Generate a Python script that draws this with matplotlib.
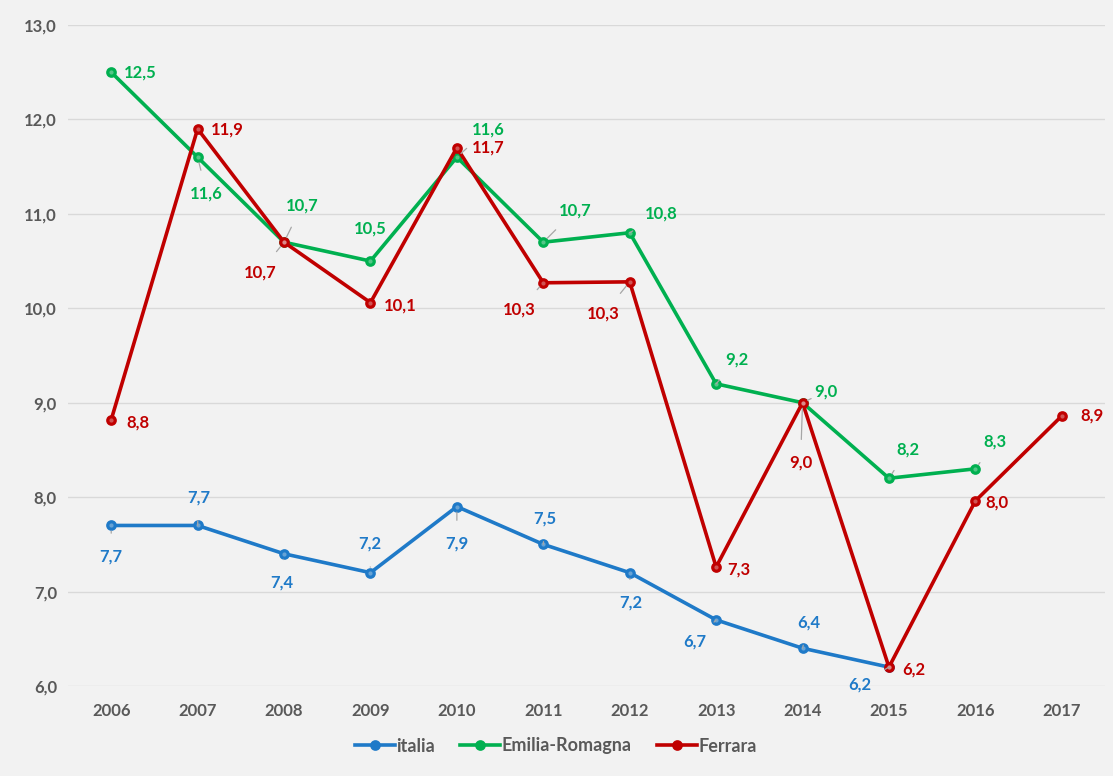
import matplotlib
matplotlib.use("Agg")
import matplotlib.pyplot as plt

years = ["2006", "2007", "2008", "2009", "2010", "2011", "2012", "2013", "2014", "2015", "2016", "2017"]
italia = [7.7, 7.7, 7.4, 7.2, 7.9, 7.5, 7.2, 6.7, 6.4, 6.2]
emilia = [12.5, 11.6, 10.7, 10.5, 11.6, 10.7, 10.8, 9.2, 9.0, 8.2, 8.3]
ferrara = [8.82, 11.9, 10.7, 10.06, 11.7, 10.27, 10.28, 7.26, 9.0, 6.2, 7.96, 8.86]
series_names = ["italia", "Emilia-Romagna", "Ferrara"]

# label offsets (pixels) and whether a leader line is drawn
off_it = [(0, -31, 1), (1, 28, 1), (-2, -29, 1), (-1, 29, 1), (0, -37, 1), (2, 26, 1),
          (1, -30, 1), (-21, -22, 1), (6, 26, 1), (-29, -17, 1)]
off_er = [(29, 0, 0), (9, -36, 1), (18, 37, 1), (0, 33, 0), (31, 28, 1), (32, 32, 1),
          (32, 19, 1), (21, 24, 1), (23, 11, 1), (19, 29, 1), (20, 27, 1)]
off_fe = [(27, -3, 0), (30, -1, 0), (-24, -30, 1), (30, -3, 0), (31, 0, 0), (-24, -27, 1),
          (-26, -32, 1), (23, -2, 0), (-2, -60, 1), (25, -2, 0), (22, -2, 0), (30, 0, 0)]

c_it, c_er, c_fe = "#1f7ac8", "#00b050", "#c00000"
bg = "#f2f2f2"
font = "Lato"
fs_lab = 12
fs_tick = 12
fs_leg = 13

fig = plt.figure(figsize=(11.13, 7.76), dpi=100, facecolor=bg)
ax = fig.add_axes([68 / 1113, 90 / 776, (1105 - 68) / 1113, 661 / 776])
ax.set_facecolor(bg)

def draw(vals, color, offs, name):
    x = list(range(len(vals)))
    ax.plot(x, vals, color=color, lw=2.6, marker="o", ms=6.5, mfc=color, mec=color,
            mew=1.2, label=name, zorder=3, solid_joinstyle="round")
    ax.plot(x, vals, ls="none", marker="o", ms=3, mfc="#f0f0f0", mec="none", zorder=4, alpha=0.35)
    for xi, v, (dx, dy, lead) in zip(x, vals, offs):
        txt = f"{v:.1f}".replace(".", ",")
        kw = dict(xytext=(dx, dy), textcoords="offset pixels", ha="center", va="center",
                  color=color, fontsize=fs_lab, fontfamily=font, fontweight="bold", zorder=5)
        if lead:
            kw["arrowprops"] = dict(arrowstyle="-", color="#a6a6a6", lw=0.9, shrinkA=9, shrinkB=4)
        ax.annotate(txt, (xi, v), **kw)

draw(italia, c_it, off_it, series_names[0])
draw(emilia, c_er, off_er, series_names[1])
draw(ferrara, c_fe, off_fe, series_names[2])

ax.set_xlim(-0.5, len(years) - 0.5)
ax.set_ylim(6.0, 13.0)
ax.set_xticks(range(len(years)))
ax.set_xticklabels(years)
yt = [6.0, 7.0, 8.0, 9.0, 10.0, 11.0, 12.0, 13.0]
ax.set_yticks(yt)
ax.set_yticklabels([f"{v:.1f}".replace(".", ",") for v in yt])
ax.grid(axis="y", color="#d9d9d9", lw=1)
ax.set_axisbelow(True)
for s in ax.spines.values():
    s.set_visible(False)
ax.tick_params(length=0, colors="#595959", labelsize=fs_tick)
ax.tick_params(axis="x", pad=12)
ax.tick_params(axis="y", pad=8)
for lab in ax.get_xticklabels() + ax.get_yticklabels():
    lab.set_fontfamily(font)
    lab.set_fontweight("bold")

leg = fig.legend(loc="center", bbox_to_anchor=(556 / 1113, 30 / 776), ncol=3, frameon=False,
                 handlelength=2.2, columnspacing=1.4, handletextpad=0.1,
                 prop=dict(family=font, size=fs_leg, weight="bold"))
for t in leg.get_texts():
    t.set_color("#595959")

fig.savefig("out.png", dpi=100, facecolor=bg)
